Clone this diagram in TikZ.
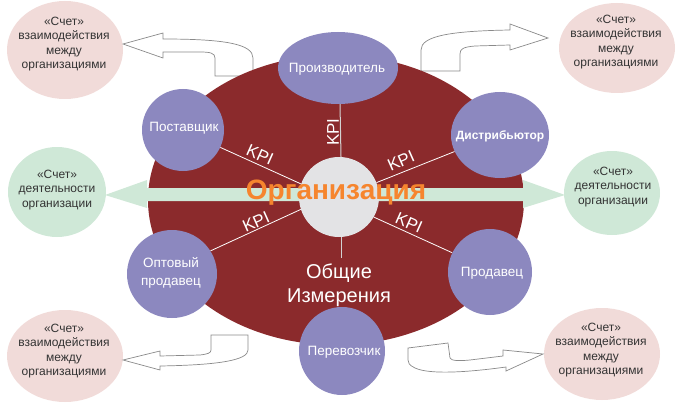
\documentclass[tikz,border=0pt]{standalone}
\usepackage{fontspec}
\setmainfont{Liberation Sans}
\usetikzlibrary{shapes.geometric}
\definecolor{orgred}{HTML}{8B2A2C}
\definecolor{satpurple}{HTML}{8C88BF}
\definecolor{pinkfill}{HTML}{F1DBD9}
\definecolor{greenfill}{HTML}{CFE8D7}
\definecolor{centergray}{HTML}{E3E3E5}
\definecolor{orgorange}{HTML}{F6852E}
\definecolor{txtdark}{HTML}{333333}
\definecolor{arrline}{HTML}{8A8A8A}
\pgfdeclarelayer{bglayer}
\pgfdeclarelayer{midlayer}
\pgfsetlayers{bglayer,midlayer,main}
\begin{document}
\begin{tikzpicture}[x=1pt,y=-1pt,
  blob/.style={ellipse, inner sep=0pt, draw=none},
  pinkblob/.style={blob, fill=pinkfill},
  greenblob/.style={blob, fill=greenfill},
  satblob/.style={blob, fill=satpurple},
  sidetxt/.style={align=center, inner sep=0pt, text=txtdark, font=\fontsize{12}{14.5}\selectfont},
  sattxt/.style={align=center, inner sep=0pt, text=white, font=\fontsize{13.5}{18.5}\selectfont},
  kpitxt/.style={inner sep=0pt, text=white, font=\fontsize{17}{20}\selectfont},
  kpiline/.style={draw=white, line width=0.8pt},
  vline/.style={draw=gray!35, line width=1pt},
  blockarrow/.style={draw=arrline, fill=white, line width=0.7pt, line join=miter}
]
\useasboundingbox (0,0) rectangle (678,404);

\begin{pgfonlayer}{bglayer}
% side ellipses
\node[pinkblob, minimum width=116pt, minimum height=98pt] (pTL) at (65,50) {};
\node[pinkblob, minimum width=116pt, minimum height=90pt] (pTR) at (617,48) {};
\node[pinkblob, minimum width=116pt, minimum height=92pt] (pBL) at (65,356) {};
\node[pinkblob, minimum width=116pt, minimum height=92pt] (pBR) at (602,354) {};
\node[greenblob, minimum width=98pt, minimum height=90pt] (gL) at (57,192) {};
\node[greenblob, minimum width=96pt, minimum height=84pt] (gR) at (612,193) {};

% block arrows
\draw[blockarrow] (123,44) -- (163,33) -- (163,39) .. controls (225,39) and (253,44) .. (253,58)
  -- (253,76) -- (215,76) -- (215,58) .. controls (215,53) and (210,52) .. (200,52) -- (163,52) -- (163,58) -- cycle;
\draw[blockarrow] (421,71) -- (421,50) .. controls (421,36) and (450,31) .. (510,30) -- (510,24) -- (548,38)
  -- (510,50) -- (510,45) -- (475,46) .. controls (463,47) and (460,49) .. (460,54) -- (460,71) -- cycle;
\draw[blockarrow] (211,335) -- (248,335) -- (248,350) .. controls (248,360) and (220,365) .. (160,366)
  -- (160,370) -- (123,360) -- (160,351) -- (160,356) -- (200,355) .. controls (208,354) and (211,353) .. (211,350) -- cycle;
\draw[blockarrow] (408,348) -- (448,343) -- (450,358) .. controls (451,361) and (460,361) .. (470,360)
  -- (503,356) -- (503,350) -- (543,354) -- (506,371) -- (506,367) .. controls (470,372) and (430,375) .. (415,368)
  .. controls (409,365) and (408,363) .. (408,360) -- cycle;

% main ellipse
\node[blob, fill=orgred, minimum width=376pt, minimum height=290pt] (main) at (336,200) {};

% green double arrow band
\fill[greenfill] (105,195) -- (147,180) -- (147,188) -- (523,188) -- (523,180) -- (565,195)
  -- (523,208) -- (523,201) -- (147,201) -- (147,208) -- cycle;
\end{pgfonlayer}

% side texts
\node[sidetxt] (pTLt) at (64,44) {«Счет»\\взаимодействия\\между\\организациями};
\node[sidetxt] (pTRt) at (616,42) {«Счет»\\взаимодействия\\между\\организациями};
\node[sidetxt] (pBLt) at (64,351) {«Счет»\\взаимодействия\\между\\организациями};
\node[sidetxt] (pBRt) at (601,350) {«Счет»\\взаимодействия\\между\\организациями};
\node[sidetxt] (gLt) at (57,190) {«Счет»\\деятельности\\организации};
\node[sidetxt] (gRt) at (613,187) {«Счет»\\деятельности\\организации};

% centre and satellites
\node[circle, fill=centergray, inner sep=0pt, minimum size=80pt] (org) at (339,197) {};
\node[satblob, minimum width=120pt, minimum height=72pt] (prod) at (338,68) {};
\node[satblob, minimum width=82pt, minimum height=82pt] (post) at (183,130) {};
\node[satblob, minimum width=98pt, minimum height=86pt] (dist) at (500,135) {};
\node[satblob, minimum width=90pt, minimum height=88pt] (opt) at (172,274) {};
\node[satblob, minimum width=84pt, minimum height=86pt] (prodv) at (490,272) {};
\node[satblob, minimum width=86pt, minimum height=88pt] (perev) at (342,351) {};
\coordinate (vend) at (341,258);

% connectors under the circles
\begin{pgfonlayer}{midlayer}
\draw[kpiline] (org.161) -- (post.-25);
\draw[kpiline] (org.21) -- (dist.-160);
\draw[kpiline] (org.-162) -- (opt.31);
\draw[kpiline] (org.-30) -- (prodv.153);
\draw[vline] ([xshift=2pt]org.north) -- ([xshift=2pt]prod.south);
\draw[vline] ([xshift=2pt]org.south) -- (vend);
\end{pgfonlayer}

% KPI labels
\node[kpitxt, rotate=-24] (k1) at (260,155) {KPI};
\node[kpitxt, rotate=24] (k2) at (401,161) {KPI};
\node[kpitxt, rotate=24] (k3) at (256,222) {KPI};
\node[kpitxt, rotate=-24] (k4) at (409,223) {KPI};
\node[kpitxt, rotate=90] (k5) at (333,132) {KPI};

% satellite texts
\node[sattxt] (prodt) at (337,69) {Производитель};
\node[sattxt] (postt) at (184,128) {Поставщик};
\node[sattxt, font=\bfseries\fontsize{12}{14}\selectfont] (distt) at (500,136) {Дистрибьютор};
\node[sattxt] (optt) at (171,273) {Оптовый\\продавец};
\node[sattxt] (prodvt) at (492,273) {Продавец};
\node[sattxt] (perevt) at (344,352) {Перевозчик};

% central texts
\node[inner sep=0pt, text=orgorange, font=\bfseries\fontsize{28}{30}\selectfont] (orgt) at (336,193) {Организация};
\node[align=center, inner sep=0pt, text=white, font=\fontsize{20}{24}\selectfont] (dims) at (339,285) {Общие\\Измерения};
\end{tikzpicture}
\end{document}
